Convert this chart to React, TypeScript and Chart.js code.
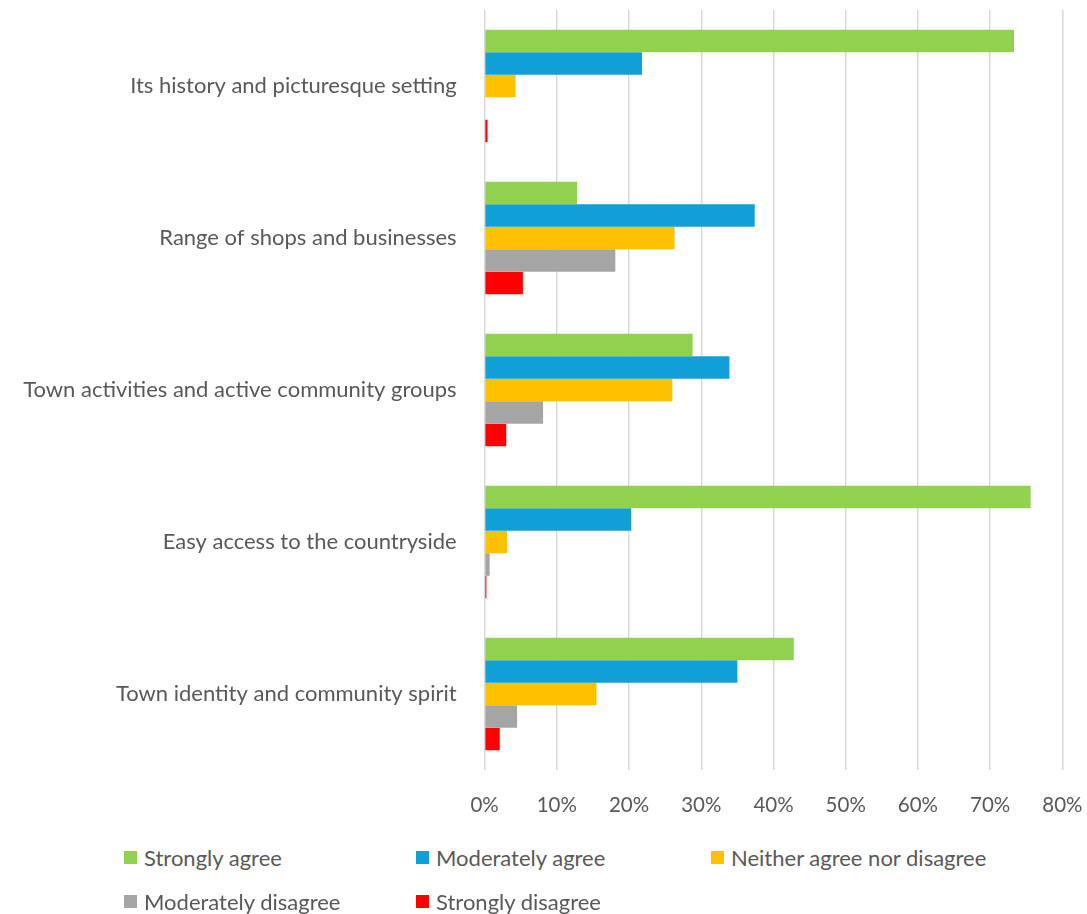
import React, { useEffect, useRef } from "react";
import { Chart, registerables } from "chart.js";

Chart.register(...registerables);

const categories = [
  "Its history and picturesque setting",
  "Range of shops and businesses",
  "Town activities and active community groups",
  "Easy access to the countryside",
  "Town identity and community spirit",
];

const seriesNames = [
  "Strongly agree",
  "Moderately agree",
  "Neither agree nor disagree",
  "Moderately disagree",
  "Strongly disagree",
];

const stronglyAgree = [73.3, 12.8, 28.8, 75.6, 42.8];
const moderatelyAgree = [21.8, 37.4, 33.9, 20.3, 35.0];
const neither = [4.3, 26.3, 26.0, 3.1, 15.5];
const moderatelyDisagree = [0, 18.1, 8.1, 0.7, 4.5];
const stronglyDisagree = [0.4, 5.3, 3.0, 0.25, 2.1];

const colors = ["#92D050", "#109FD6", "#FFC000", "#A5A5A5", "#FF0000"];

const xTicks = [0, 10, 20, 30, 40, 50, 60, 70, 80];

const FONT = "Lato, 'Open Sans', sans-serif";
const TEXT = "#595959";
const SIZE = 22;
const TICK_SIZE = 20.5;

export default function App() {
  const ref = useRef<HTMLCanvasElement | null>(null);

  useEffect(() => {
    if (!ref.current) return;
    const values = [stronglyAgree, moderatelyAgree, neither, moderatelyDisagree, stronglyDisagree];
    const chart = new Chart(ref.current, {
      type: "bar",
      data: {
        labels: categories,
        datasets: seriesNames.map((name, i) => ({
          label: name,
          data: values[i],
          backgroundColor: colors[i],
          borderWidth: 0,
          categoryPercentage: 0.74,
          barPercentage: 1,
        })),
      },
      options: {
        indexAxis: "y",
        animation: false,
        responsive: false,
        maintainAspectRatio: false,
        layout: { padding: { top: 10, right: 24.6, left: 0, bottom: 0 } },
        plugins: {
          legend: { display: false },
          tooltip: { enabled: false },
        },
        scales: {
          x: {
            min: 0,
            max: 80,
            afterBuildTicks: (scale: any) => {
              scale.ticks = xTicks.map((v) => ({ value: v }));
            },
            afterFit: (scale: any) => {
              scale.height = 60;
              scale.paddingLeft = 0;
              scale.paddingRight = 0;
            },
            ticks: {
              padding: 23,
              color: TEXT,
              font: { family: FONT, size: TICK_SIZE },
              callback: (v: any) => v + "%",
            },
            grid: { color: "#D9D9D9", lineWidth: 1.5, drawTicks: false },
            border: { display: false },
          },
          y: {
            afterFit: (scale: any) => {
              scale.width = 484.6;
              scale.paddingTop = 0;
              scale.paddingBottom = 0;
            },
            ticks: {
              padding: 28,
              color: TEXT,
              font: { family: FONT, size: SIZE },
            },
            grid: { display: false, drawTicks: false },
            border: { display: false },
          },
        },
      },
    });
    return () => chart.destroy();
  }, []);

  const legendPos = [
    { x: 124, y: 857 },
    { x: 416, y: 857 },
    { x: 711, y: 857 },
    { x: 124, y: 901 },
    { x: 416, y: 901 },
  ];

  return (
    <div style={{ position: "fixed", left: 0, top: 0, width: 1087, height: 914, background: "#fff" }}>
      <canvas ref={ref} width={1087} height={830} style={{ position: "absolute", left: 0, top: 0, width: 1087, height: 830 }} />
      {seriesNames.map((name, i) => (
        <div
          key={name}
          style={{
            position: "absolute",
            left: legendPos[i].x,
            top: legendPos[i].y - 14,
            height: 28,
            display: "flex",
            alignItems: "center",
            fontFamily: FONT,
            fontSize: SIZE,
            color: TEXT,
            whiteSpace: "nowrap",
          }}
        >
          <span style={{ display: "inline-block", width: 13, height: 13, background: colors[i], marginRight: 7 }} />
          <span>{name}</span>
        </div>
      ))}
    </div>
  );
}
